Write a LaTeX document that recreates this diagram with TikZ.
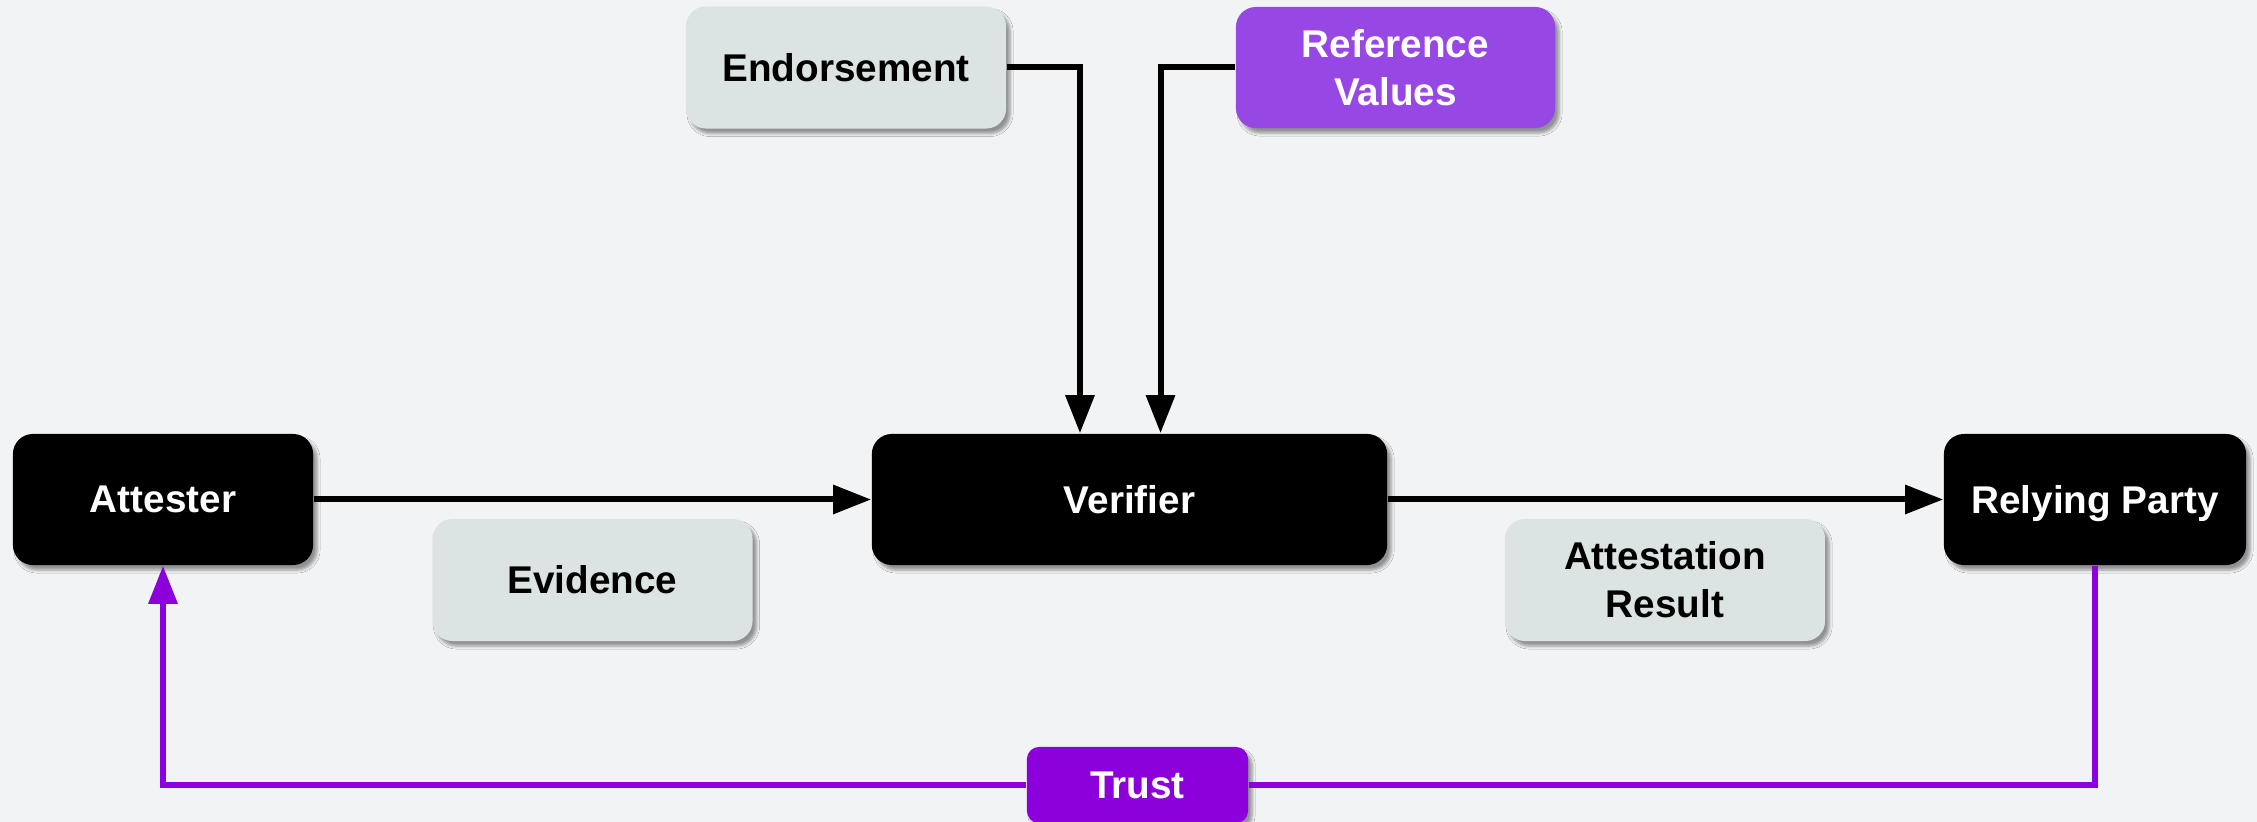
\documentclass[tikz,border=0pt]{standalone}
\usepackage{fontspec}
\setmainfont{Liberation Sans}
\usetikzlibrary{arrows.meta,shadows.blur}
\definecolor{bgcol}{HTML}{F2F3F5}
\definecolor{boxgrey}{HTML}{DCE4E3}
\definecolor{refpurple}{HTML}{9747E4}
\definecolor{trustpurple}{HTML}{8C00DC}
\tikzset{
	box/.style={rounded corners=0.2cm, align=center, inner sep=0pt,
		font=\fontsize{11}{13.6}\selectfont\bfseries,
		blur shadow={shadow xshift=0.04cm, shadow yshift=-0.05cm, shadow blur steps=5,
			shadow blur radius=0.03cm, shadow opacity=40}},
	darkbox/.style={box, fill=black, text=white, minimum height=1.31cm, text depth=0pt},
	greybox/.style={box, fill=boxgrey, text=black, minimum width=3.2cm, minimum height=1.22cm},
	arr/.style={line width=0.06cm, -{Triangle[length=0.38cm,width=0.28cm]}},
	trustline/.style={line width=0.06cm, color=trustpurple},
}

\begin{document}
\begin{tikzpicture}[x=0.01cm, y=-0.01cm]
		%%%%% START %%%%%
		
		\fill[bgcol] (0, 0) rectangle (2257, 822);
		\useasboundingbox (0, 0) rectangle (2257, 822);
		\clip (0, 0) rectangle (2257, 822);
		
		% inputs on top
		\node[greybox] (endo) at (846, 67.5) {Endorsement};
		\node[box, fill=refpurple, text=white, minimum width=3.19cm, minimum height=1.21cm] (ref) at (1395.5, 67.5) {Reference\\Values};
		
		% main row
		\node[darkbox, minimum width=3.0cm] (att) at (163, 499.5) {Attester};
		\node[darkbox, minimum width=5.15cm] (ver) at (1129.5, 499.5) {Verifier};
		\node[darkbox, minimum width=3.02cm] (rp) at (2095, 499.5) {Relying Party};
		
		\node[greybox] (evi) at (592.5, 580) {Evidence};
		\node[greybox] (res) at (1665, 580) {Attestation\\Result};
		
		\node[box, fill=trustpurple, text=white, rounded corners=0.12cm, minimum width=2.21cm, minimum height=0.76cm] (trust) at (1137.5, 785) {Trust};
		
		\draw[arr] (att.east) -- (ver.west);
		\draw[arr] (ver.east) -- (rp.west);
		\draw[arr] (endo.east) -| ([xshift=-0.495cm]ver.north);
		\draw[arr] (ref.west) -| ([xshift=0.31cm]ver.north);
		
		\draw[trustline] (rp.south) |- (trust.east);
		\draw[trustline, arr] (trust.west) -| (att.south);
		
		%%%%% END %%%%%
\end{tikzpicture}
\end{document}
